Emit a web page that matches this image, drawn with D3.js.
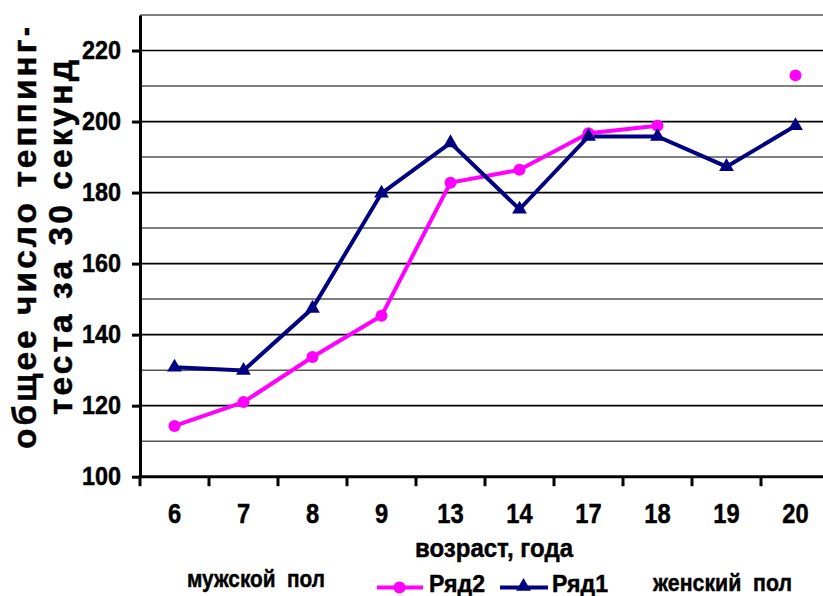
<!DOCTYPE html>
<html>
<head>
<meta charset="utf-8">
<script src="https://cdn.jsdelivr.net/npm/d3@7"></script>
<style>
  html, body { margin: 0; padding: 0; background: #fff; }
  svg { display: block; font-family: "Liberation Sans", Arial, sans-serif; font-weight: bold; }
  text { white-space: pre; }
</style>
</head>
<body>
<svg id="chart" width="823" height="596"></svg>
<script>
// Ages on the category axis
const ages = ["6", "7", "8", "9", "13", "14", "17", "18", "19", "20"];
// Ряд2 — magenta series (no measurement at 19)
const series2 = [114.3, 121, 133.7, 145.3, 182.8, 186.4, 196.7, 198.8, null, 213];
// Ряд1 — navy series
const series1 = [130.8, 129.9, 147.4, 179.8, 194, 175.3, 195.8, 195.8, 187.3, 198.8];
// Labelled values on the vertical axis and gridline values
const yTickValues = [100, 120, 140, 160, 180, 200, 220];
const gridValues = [110, 120, 130, 140, 150, 160, 170, 180, 190, 200, 210, 220, 230];

const svg = d3.select("#chart");
const W = 823, H = 596;
const plotLeft = 140, bandRight = 830, plotTop = 15, plotBottom = 476.7;
const ink = "#000";

svg.append("rect").attr("width", W).attr("height", H).attr("fill", "#fff");

const x = d3.scaleBand().domain(ages).range([plotLeft, bandRight]).paddingInner(0).paddingOuter(0);
const cx = d => x(d) + x.bandwidth() / 2;
const y = d3.scaleLinear().domain([100, 230]).range([plotBottom, plotTop]);

// horizontal gridlines every 10 units
svg.append("g").selectAll("line").data(gridValues).join("line")
  .attr("x1", plotLeft).attr("x2", W)
  .attr("y1", d => y(d)).attr("y2", d => y(d))
  .attr("stroke", d => d % 20 === 0 ? "#000" : "#555")
  .attr("stroke-width", d => d % 20 === 0 ? 1.7 : 1.5);

// bold text helper: a thin outline thickens the glyphs slightly
const heavy = sel => sel.attr("fill", ink).attr("stroke", ink).attr("stroke-width", 0.45);

// vertical axis
const yAxis = svg.append("g").attr("transform", `translate(${plotLeft},0)`)
  .call(d3.axisLeft(y).tickValues(yTickValues).tickSize(8).tickSizeOuter(0).tickPadding(11).tickFormat(d3.format("d")));
yAxis.select(".domain").attr("stroke", "#000").attr("stroke-width", 3);
yAxis.selectAll(".tick line").attr("stroke", "#000").attr("stroke-width", 3);
yAxis.selectAll(".tick text")
  .attr("font-family", "Liberation Sans, Arial, sans-serif")
  .attr("font-weight", "bold").attr("font-size", 25.5)
  .attr("textLength", d => String(d).length * 13.0).attr("lengthAdjust", "spacingAndGlyphs")
  .call(heavy);

// horizontal axis: labels centred in each band, ticks on the band edges
const xAxis = svg.append("g").attr("transform", `translate(0,${plotBottom})`)
  .call(d3.axisBottom(x).tickSize(0).tickSizeOuter(0));
xAxis.select(".domain").remove();
xAxis.selectAll(".tick text")
  .attr("y", 46.5).attr("dy", 0)
  .attr("font-family", "Liberation Sans, Arial, sans-serif")
  .attr("font-weight", "bold").attr("font-size", 27)
  .attr("textLength", d => d.length * 13.2).attr("lengthAdjust", "spacingAndGlyphs")
  .call(heavy);

const edges = ages.map(d => x(d)).concat([bandRight]);
svg.append("g").selectAll("line").data(edges).join("line")
  .attr("x1", d => d).attr("x2", d => d)
  .attr("y1", plotBottom).attr("y2", plotBottom + 9.5)
  .attr("stroke", "#000").attr("stroke-width", 3);
svg.append("line").attr("x1", plotLeft - 1.5).attr("x2", W).attr("y1", plotBottom).attr("y2", plotBottom)
  .attr("stroke", "#000").attr("stroke-width", 3);

// series lines
const line = d3.line()
  .defined(d => d.v !== null)
  .x(d => cx(d.age)).y(d => y(d.v));
const pts2 = ages.map((a, i) => ({ age: a, v: series2[i] }));
const pts1 = ages.map((a, i) => ({ age: a, v: series1[i] }));

svg.append("path").datum(pts2).attr("d", line)
  .attr("fill", "none").attr("stroke", "#ff00ff").attr("stroke-width", 4).attr("stroke-linejoin", "round");
svg.append("path").datum(pts1).attr("d", line)
  .attr("fill", "none").attr("stroke", "#000080").attr("stroke-width", 4).attr("stroke-linejoin", "miter");

svg.append("g").selectAll("circle").data(pts2.filter(d => d.v !== null)).join("circle")
  .attr("cx", d => cx(d.age)).attr("cy", d => y(d.v)).attr("r", 6).attr("fill", "#ff00ff");

const tri = d3.symbol().type(d3.symbolTriangle).size(95);
svg.append("g").selectAll("path").data(pts1).join("path")
  .attr("d", tri).attr("transform", d => `translate(${cx(d.age)},${y(d.v)})`).attr("fill", "#000080");

// vertical title, two lines
svg.append("clipPath").attr("id", "titleClip")
  .append("rect").attr("x", 0).attr("y", 28).attr("width", 100).attr("height", 560);
const titleG = svg.append("g").attr("clip-path", "url(#titleClip)");
titleG.append("text")
  .attr("transform", "translate(36,449) rotate(-90)")
  .attr("font-size", 33).style("letter-spacing", "3px")
  .attr("textLength", 427).attr("lengthAdjust", "spacingAndGlyphs")
  .text("общее число теппинг-").call(heavy);
titleG.append("text")
  .attr("transform", "translate(72,415) rotate(-90)")
  .attr("font-size", 33).style("letter-spacing", "3px")
  .attr("textLength", 358).attr("lengthAdjust", "spacingAndGlyphs")
  .text("теста за 30 секунд").call(heavy);

// horizontal axis title
svg.append("text").attr("x", 415).attr("y", 557)
  .attr("font-size", 25)
  .attr("textLength", 158).attr("lengthAdjust", "spacingAndGlyphs")
  .text("возраст, года").call(heavy);

// group captions
svg.append("text").attr("x", 187).attr("y", 587)
  .attr("font-size", 24)
  .attr("textLength", 138).attr("lengthAdjust", "spacingAndGlyphs")
  .text("мужской  пол").call(heavy);
svg.append("text").attr("x", 653).attr("y", 591)
  .attr("font-size", 24)
  .attr("textLength", 139).attr("lengthAdjust", "spacingAndGlyphs")
  .text("женский  пол").call(heavy);

// legend
const legend = svg.append("g");
legend.append("line").attr("x1", 377).attr("x2", 423).attr("y1", 587.5).attr("y2", 587.5)
  .attr("stroke", "#ff00ff").attr("stroke-width", 4);
legend.append("circle").attr("cx", 399.5).attr("cy", 587.5).attr("r", 6).attr("fill", "#ff00ff");
legend.append("text").attr("x", 429).attr("y", 591.5).attr("font-size", 23)
  .attr("textLength", 56).attr("lengthAdjust", "spacingAndGlyphs").text("Ряд2").call(heavy);
legend.append("line").attr("x1", 500).attr("x2", 548).attr("y1", 587.5).attr("y2", 587.5)
  .attr("stroke", "#000080").attr("stroke-width", 4);
legend.append("path").attr("d", tri).attr("transform", "translate(523.5,586.5)").attr("fill", "#000080");
legend.append("text").attr("x", 552).attr("y", 591.5).attr("font-size", 23)
  .attr("textLength", 56).attr("lengthAdjust", "spacingAndGlyphs").text("Ряд1").call(heavy);
</script>
</body>
</html>
